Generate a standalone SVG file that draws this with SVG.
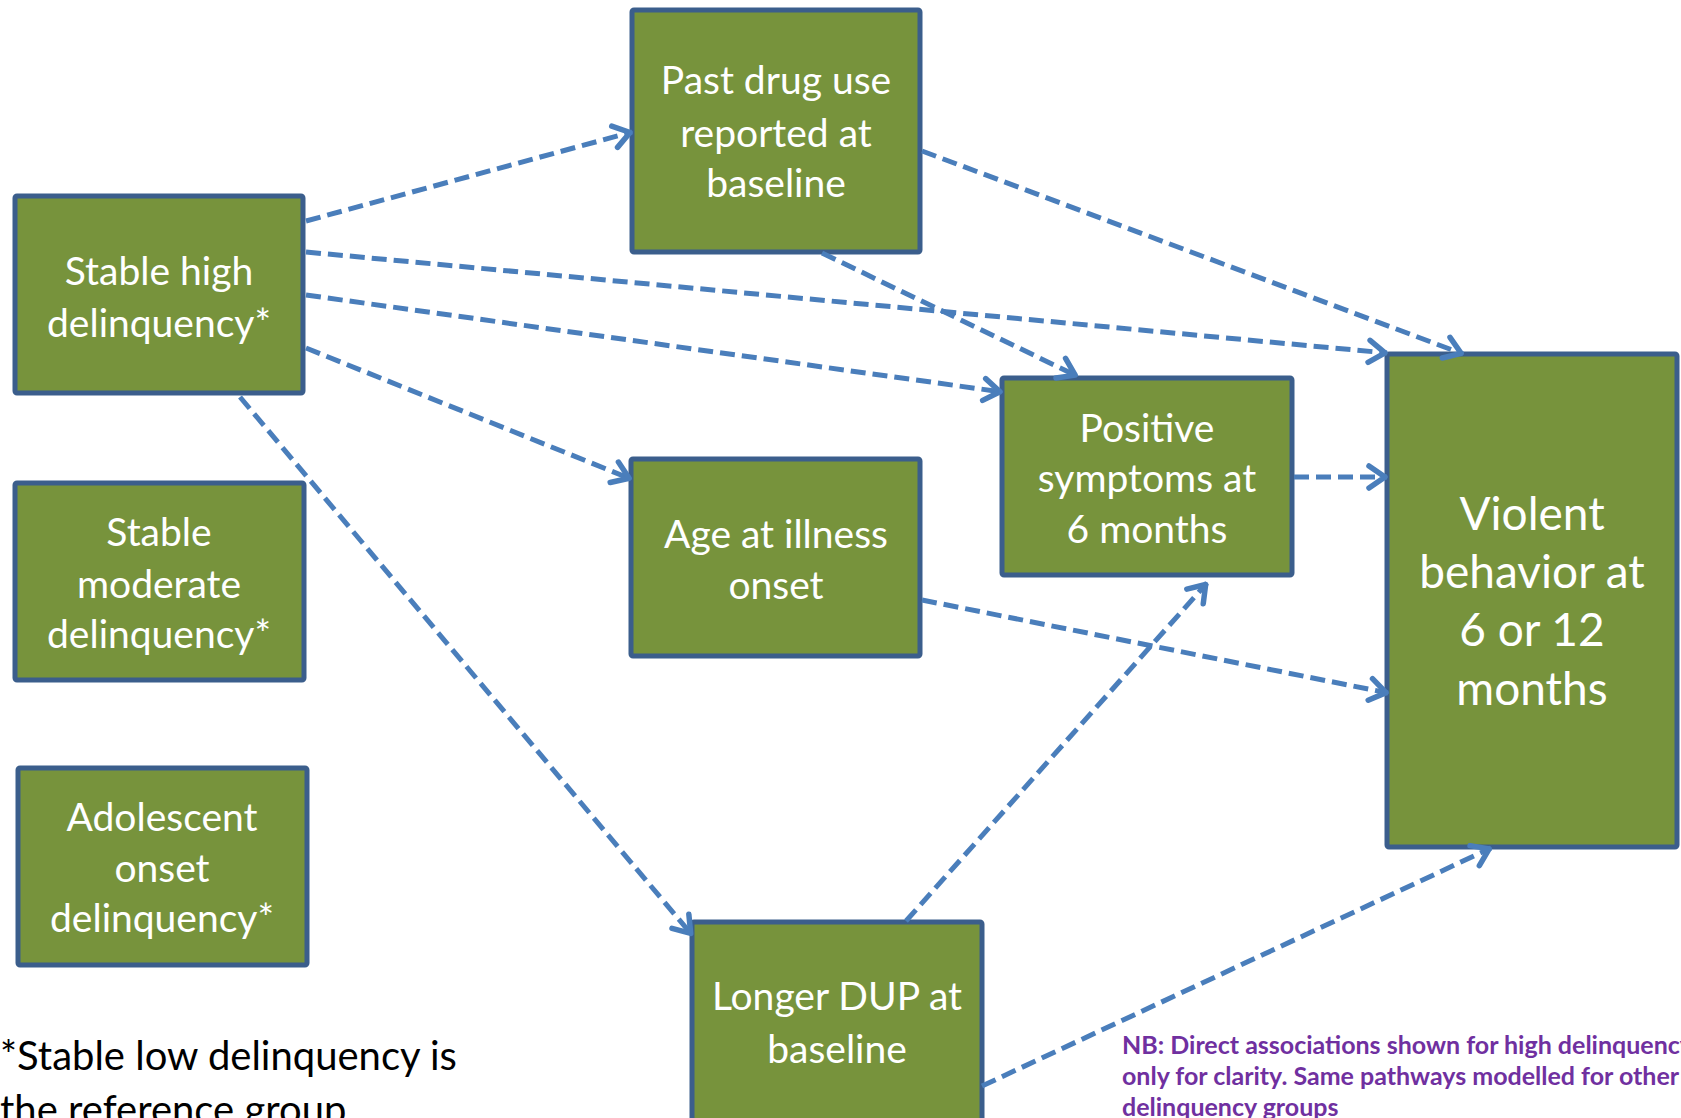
<svg xmlns="http://www.w3.org/2000/svg" width="1681" height="1118" viewBox="0 0 1681 1118">
<style>
.box{fill:#77933C;stroke:#3B5E8C;stroke-width:5;}
.lbl{font-family:Lato,"Liberation Sans",sans-serif;font-size:39px;fill:#FFFFFF;text-anchor:middle;}
.big{font-size:46px;}
.edge{fill:none;stroke:#4A7EBB;stroke-width:5;stroke-dasharray:15 7;marker-end:url(#arr);}
.note{font-family:Lato,"Liberation Sans",sans-serif;font-size:40px;fill:#000000;}
.nb{font-family:Lato,"Liberation Sans",sans-serif;font-size:25px;font-weight:bold;fill:#7030A0;}
</style>
<defs>
<marker id="arr" markerUnits="userSpaceOnUse" viewBox="-26 -16 32 32" markerWidth="32" markerHeight="32" refX="0" refY="0" orient="auto" overflow="visible">
<path d="M -18 -11 L -2 0 L -18 11" fill="none" stroke="#4A7EBB" stroke-width="5.5" stroke-linecap="round" stroke-linejoin="round" stroke-dasharray="none"/>
</marker>
</defs>
<g id="n_stable_high">
<rect class="box" x="15" y="196" width="288" height="197" rx="2"/>
<text class="lbl" x="159" y="285">Stable high</text>
<text class="lbl" x="159" y="337">delinquency*</text>
</g>
<g id="n_stable_moderate">
<rect class="box" x="15" y="483" width="289" height="197" rx="2"/>
<text class="lbl" x="159" y="546">Stable</text>
<text class="lbl" x="159" y="598">moderate</text>
<text class="lbl" x="159" y="648">delinquency*</text>
</g>
<g id="n_adolescent">
<rect class="box" x="18" y="768" width="289" height="197" rx="2"/>
<text class="lbl" x="162" y="831">Adolescent</text>
<text class="lbl" x="162" y="882">onset</text>
<text class="lbl" x="162" y="932">delinquency*</text>
</g>
<g id="n_past_drug">
<rect class="box" x="632" y="10" width="288" height="242" rx="2"/>
<text class="lbl" x="776" y="94">Past drug use</text>
<text class="lbl" x="776" y="147">reported at</text>
<text class="lbl" x="776" y="197">baseline</text>
</g>
<g id="n_age_onset">
<rect class="box" x="631" y="459" width="289" height="197" rx="2"/>
<text class="lbl" x="776" y="548">Age at illness</text>
<text class="lbl" x="776" y="599">onset</text>
</g>
<g id="n_positive">
<rect class="box" x="1002" y="378" width="290" height="197" rx="2"/>
<text class="lbl" x="1147" y="442">Positive</text>
<text class="lbl" x="1147" y="492">symptoms at</text>
<text class="lbl" x="1147" y="543">6 months</text>
</g>
<g id="n_violent">
<rect class="box" x="1387" y="354" width="290" height="493" rx="2"/>
<text class="lbl big" x="1532" y="530">Violent</text>
<text class="lbl big" x="1532" y="588">behavior at</text>
<text class="lbl big" x="1532" y="646">6 or 12</text>
<text class="lbl big" x="1532" y="705">months</text>
</g>
<g id="n_dup">
<rect class="box" x="692" y="922" width="290" height="210" rx="2"/>
<text class="lbl" x="837" y="1010">Longer DUP at</text>
<text class="lbl" x="837" y="1063">baseline</text>
</g>
<g id="connectors">
<path class="edge" d="M306 221 L632 132"/>
<path class="edge" d="M306 252 L1387 353"/>
<path class="edge" d="M306 295 L1002 392"/>
<path class="edge" d="M306 348 L631 479"/>
<path class="edge" d="M240 397 L692 935"/>
<path class="edge" d="M922 151 L1463 354"/>
<path class="edge" d="M822 253 L1077 376"/>
<path class="edge" d="M1294 477 L1387 477"/>
<path class="edge" d="M922 600 L1388 693"/>
<path class="edge" d="M906 921 L1207 583"/>
<path class="edge" d="M982 1086 L1491 848"/>
</g>
<g id="notes">
<text class="note" x="0" y="1070">*Stable low delinquency is</text>
<text class="note" x="0" y="1124">the reference group</text>
<text class="nb" x="1122" y="1054">NB: Direct associations shown for high delinquency</text>
<text class="nb" x="1122" y="1085">only for clarity. Same pathways modelled for other</text>
<text class="nb" x="1122" y="1116">delinquency groups</text>
</g>
</svg>
